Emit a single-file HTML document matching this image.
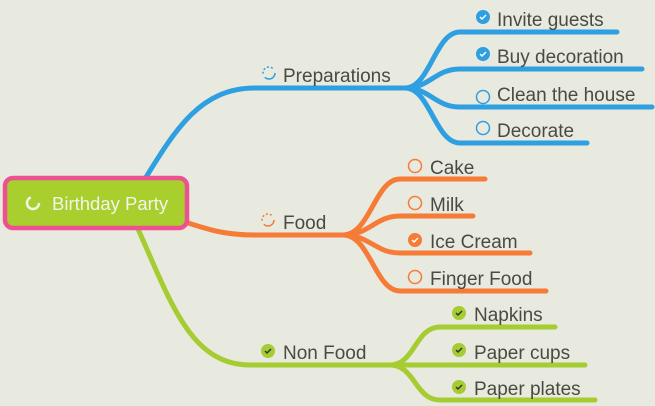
<!DOCTYPE html>
<html><head><style>
html,body{margin:0;padding:0;background:#e8eae0;}
svg{display:block}
text{font-family:"Liberation Sans",sans-serif;}
</style></head><body>
<svg width="655" height="406" viewBox="0 0 655 406" xmlns="http://www.w3.org/2000/svg">
<rect width="655" height="406" fill="#e8eae0"/>
<g fill="none" stroke-linecap="round">
<g stroke="#2e9fe0" stroke-width="5">
<path d="M143 182 C175 130,200 88,255 88 L405 88"/>
<path d="M405 88 C430 88,435 32,460 32 L617 32"/>
<path d="M405 88 C430 88,435 69,460 69 L642 69"/>
<path d="M405 88 C430 88,435 107,460 107 L652 107"/>
<path d="M405 88 C430 88,435 143,460 143 L587 143"/>
</g>
<g stroke="#f57b36" stroke-width="5">
<path d="M185 222 C210 230,225 235,255 235 L343 235"/>
<path d="M343 235 C370 235,375 179,400 179 L485 179"/>
<path d="M343 235 C370 235,375 216,400 216 L473 216"/>
<path d="M343 235 C370 235,375 253,400 253 L530 253"/>
<path d="M343 235 C370 235,375 291,400 291 L546 291"/>
</g>
<g stroke="#a5cc30" stroke-width="5">
<path d="M138 229 C170 300,190 365,250 365 L390 365"/>
<path d="M390 365 C415 365,415 327,440 327 L555 327"/>
<path d="M390 365 L585 365"/>
<path d="M390 365 C415 365,415 400,440 400 L595 400"/>
</g>
</g>
<rect x="5" y="178" width="182" height="50" rx="8" fill="#a8cf2e" stroke="#ee5192" stroke-width="4.5"/>
<circle cx="33" cy="203" r="6" fill="none" stroke="#f4f4ea" stroke-width="2.5" stroke-dasharray="26 12"/>
<text x="52" y="210" font-size="18.5" fill="#f4f4ea">Birthday Party</text>
<g font-size="19" fill="#4a4a40">
<text x="283" y="82">Preparations</text>
<text x="283" y="229">Food</text>
<text x="283" y="359">Non Food</text>
<text x="497" y="26">Invite guests</text>
<text x="497" y="63">Buy decoration</text>
<text x="497" y="101">Clean the house</text>
<text x="497" y="137">Decorate</text>
<text x="430" y="174">Cake</text>
<text x="430" y="211">Milk</text>
<text x="430" y="248">Ice Cream</text>
<text x="430" y="285">Finger Food</text>
<text x="474" y="321">Napkins</text>
<text x="474" y="359">Paper cups</text>
<text x="474" y="395">Paper plates</text>
</g>
<g stroke-width="1.5" fill="none">
<circle cx="269" cy="73" r="6" stroke="#2e9fe0" stroke-dasharray="14 4 2 2 2 2 2 2 2"/>
<circle cx="268" cy="220" r="6" stroke="#f57b36" stroke-dasharray="14 4 2 2 2 2 2 2 2"/>
<circle cx="483" cy="97" r="6.5" stroke="#2e9fe0"/>
<circle cx="483" cy="128" r="6.5" stroke="#2e9fe0"/>
<circle cx="415" cy="166" r="6.5" stroke="#f57b36"/>
<circle cx="415" cy="203" r="6.5" stroke="#f57b36"/>
<circle cx="415" cy="277" r="6.5" stroke="#f57b36"/>
</g>
<g>
<circle cx="483" cy="17" r="7" fill="#2e9fe0"/><path d="M480 17 l2 2 4-4" stroke="#fff" stroke-width="1.5" fill="none"/>
<circle cx="483" cy="54" r="7" fill="#2e9fe0"/><path d="M480 54 l2 2 4-4" stroke="#fff" stroke-width="1.5" fill="none"/>
<circle cx="415" cy="240" r="7" fill="#f57b36"/><path d="M412 240 l2 2 4-4" stroke="#fff" stroke-width="1.5" fill="none"/>
<circle cx="268" cy="351" r="7" fill="#a5cc30"/><path d="M265 351 l2 2 4-4" stroke="#333" stroke-width="1.5" fill="none"/>
<circle cx="459" cy="313" r="7" fill="#a5cc30"/><path d="M456 313 l2 2 4-4" stroke="#333" stroke-width="1.5" fill="none"/>
<circle cx="459" cy="350" r="7" fill="#a5cc30"/><path d="M456 350 l2 2 4-4" stroke="#333" stroke-width="1.5" fill="none"/>
<circle cx="459" cy="387" r="7" fill="#a5cc30"/><path d="M456 387 l2 2 4-4" stroke="#333" stroke-width="1.5" fill="none"/>
</g>
</svg>
</body></html>
